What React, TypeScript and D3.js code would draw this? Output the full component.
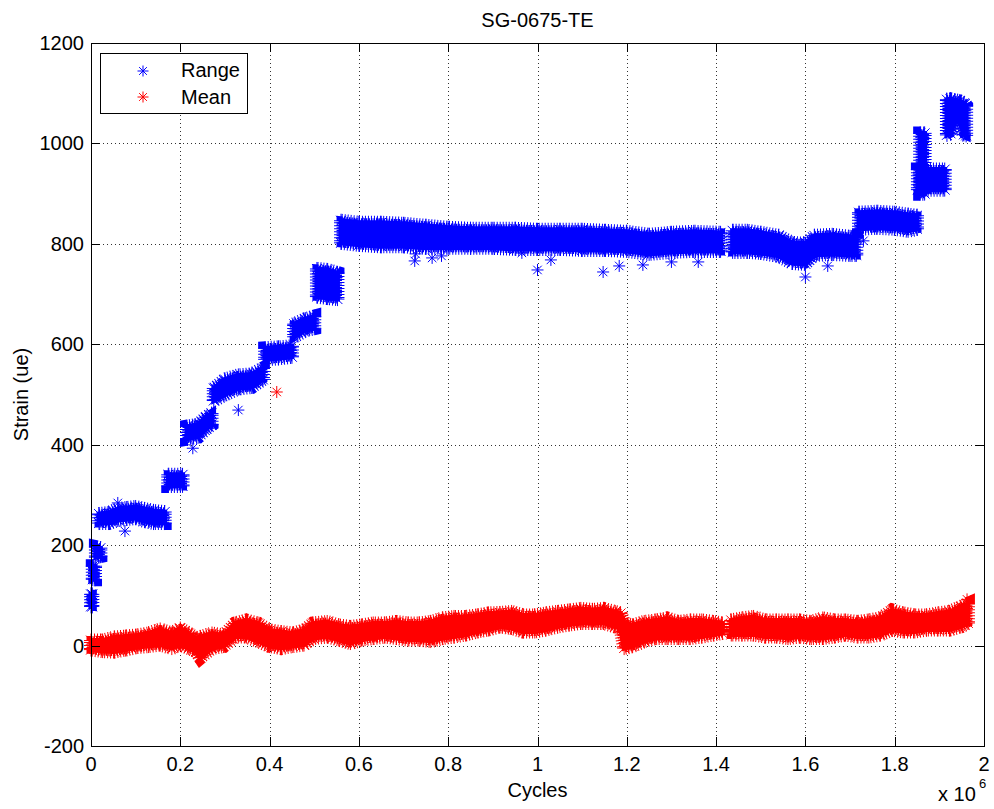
import React from "react";
import * as d3 from "d3";

// SG-0675-TE strain history: Range and Mean vs Cycles (x 10^6)
const W = 994;
const H = 809;
const plot = { left: 91, right: 984, top: 43, bottom: 746 };

const xTicks = [0, 0.2, 0.4, 0.6, 0.8, 1, 1.2, 1.4, 1.6, 1.8, 2];
const yTicks = [-200, 0, 200, 400, 600, 800, 1000, 1200];

// dense point clouds as [cycles (1e6), low, high]; null = gap
type Row = [number, number, number] | null;

const rangeBand: Row[] = [
  [0.0, 78, 102], [0.003, 78, 102], null,
  [0.004, 132, 158], [0.009, 132, 158], null,
  [0.011, 176, 196], [0.021, 178, 194], null,
  [0.018, 244, 262], [0.04, 244, 264], [0.06, 250, 272], [0.08, 252, 274],
  [0.1, 254, 276], [0.12, 248, 272], [0.14, 244, 268], [0.165, 244, 266], null,
  [0.173, 318, 340], [0.205, 318, 340], null,
  [0.215, 412, 436], [0.24, 416, 440], [0.258, 432, 455], [0.27, 440, 462], null,
  [0.275, 488, 512], [0.3, 500, 530], [0.33, 512, 538], [0.36, 515, 540], [0.385, 530, 552], null,
  [0.39, 570, 592], [0.42, 572, 594], [0.45, 575, 596], null,
  [0.455, 615, 640], [0.48, 628, 650], [0.5, 632, 655], null,
  [0.506, 695, 750], [0.53, 692, 748], [0.552, 690, 742], null,
  [0.56, 802, 846], [0.6, 798, 842], [0.65, 795, 842], [0.7, 795, 840], [0.75, 792, 836],
  [0.8, 792, 832], [0.85, 792, 830], [0.9, 792, 830], [0.95, 790, 830], [1.0, 790, 828],
  [1.05, 790, 828], [1.1, 788, 828], [1.15, 788, 826], [1.2, 786, 824], [1.25, 780, 818],
  [1.3, 784, 822], [1.35, 786, 824], [1.41, 786, 822], null,
  [1.437, 784, 826], [1.47, 784, 826], [1.5, 782, 822], [1.54, 776, 816], [1.57, 762, 802],
  [1.6, 760, 800], [1.62, 778, 816], [1.66, 780, 818], [1.7, 778, 814], [1.714, 778, 812], null,
  [1.72, 830, 862], [1.76, 832, 864], [1.8, 830, 862], [1.83, 826, 858], [1.85, 830, 856], null,
  [1.857, 900, 1020], [1.867, 900, 1020], null,
  [1.852, 908, 948], [1.912, 908, 948], null,
  [1.917, 1017, 1087], [1.925, 1020, 1088], [1.935, 1045, 1086], [1.945, 1045, 1084],
  [1.955, 1018, 1080], [1.96, 1016, 1075],
];

const meanBand: Row[] = [
  [0.0, -8, 10], [0.026, -11, 10], [0.052, -12, 16], [0.077, -8, 18], [0.103, -3, 20],
  [0.129, -1, 24], [0.155, 2, 32], [0.181, -5, 24], [0.2, 2, 34], [0.219, -5, 24],
  [0.235, -11, 14], [0.245, -24, 17], [0.271, -5, 24], [0.297, -1, 20], [0.323, 18, 44],
  [0.348, 18, 50], [0.374, 9, 44], [0.4, -1, 30], [0.426, -5, 27], [0.452, -1, 24],
  [0.477, 2, 30], [0.497, 15, 44], [0.529, 18, 47], [0.555, 12, 40], [0.581, 5, 37],
  [0.606, 12, 40], [0.632, 15, 44], [0.658, 18, 44], [0.684, 15, 47], [0.71, 12, 44],
  [0.735, 12, 44], [0.761, 9, 47], [0.787, 15, 54], [0.813, 18, 57], [0.839, 22, 57],
  [0.865, 28, 60], [0.89, 32, 64], [0.916, 38, 65], [0.942, 35, 67], [0.968, 28, 60],
  [0.994, 28, 60], [1.019, 32, 64], [1.045, 38, 67], [1.071, 42, 70], [1.097, 45, 73],
  [1.123, 45, 71], [1.148, 45, 73], [1.174, 38, 67], [1.186, 36, 64],
  [1.194, -5, 44], [1.213, -1, 40], [1.239, 9, 47], [1.265, 15, 50], [1.29, 15, 54],
  [1.316, 15, 47], [1.342, 15, 50], [1.368, 18, 50], [1.394, 22, 47], [1.414, 25, 44], null,
  [1.434, 22, 50], [1.458, 22, 54], [1.484, 22, 57], [1.51, 18, 50], [1.535, 18, 50],
  [1.561, 15, 50], [1.587, 18, 50], [1.613, 15, 47], [1.639, 15, 54], [1.665, 18, 50],
  [1.69, 22, 50], [1.716, 18, 47], [1.742, 18, 50], [1.768, 22, 54], [1.794, 32, 70],
  [1.819, 28, 64], [1.845, 28, 60], [1.871, 32, 60], [1.897, 32, 64], [1.923, 32, 67],
  [1.948, 38, 77], [1.964, 45, 83],
];

// single stray points: [cycles (1e6), value]
const rangeOutliers: [number, number][] = [
  [0.06, 284], [0.076, 228], [0.228, 393], [0.33, 469], [0.725, 766], [0.727, 780],
  [0.764, 772], [0.785, 776], [0.965, 782], [1.0, 748], [1.03, 768], [1.147, 744],
  [1.183, 756], [1.236, 758], [1.3, 764], [1.36, 764], [1.6, 734], [1.65, 756],
  [1.73, 806],
];
const meanOutliers: [number, number][] = [[0.416, 505], [1.962, 92]];

const BLUE = "#0000ff";
const RED = "#ff0000";
const FONT = "'Liberation Sans', Arial, Helvetica, sans-serif";

function star(cx: number, cy: number, r: number) {
  const d = r * 0.707;
  return (
    `M${cx - r},${cy}L${cx + r},${cy}M${cx},${cy - r}L${cx},${cy + r}` +
    `M${cx - d},${cy - d}L${cx + d},${cy + d}M${cx - d},${cy + d}L${cx + d},${cy - d}`
  );
}

function Band({ rows, outliers, color, x, y }: any) {
  const area = d3
    .area<Row>()
    .defined((d) => d !== null)
    .x((d) => x(d![0]))
    .y0((d) => y(d![1]))
    .y1((d) => y(d![2]));
  const path = area(rows) || "";
  const pts = rows.filter((d: Row) => d !== null) as [number, number, number][];
  let stars = "";
  pts.forEach((d) => {
    stars += star(x(d[0]), y(d[1]), 7) + star(x(d[0]), y(d[2]), 7);
  });
  let lone = "";
  outliers.forEach((d: [number, number]) => {
    lone += star(x(d[0]), y(d[1]), 6);
  });
  return (
    <g>
      {/* spiky fringe of the overlapping asterisks */}
      <path d={path} fill={color} stroke={color} strokeWidth={14} strokeDasharray="1 2" />
      <path d={path} fill={color} stroke={color} strokeWidth={9} strokeDasharray="1.5 1" />
      <path d={path} fill={color} stroke={color} strokeWidth={5} />
      <path d={stars} fill="none" stroke={color} strokeWidth={1} />
      <path d={lone} fill="none" stroke={color} strokeWidth={1} />
    </g>
  );
}

export default function App() {
  const x = d3.scaleLinear().domain([0, 2]).range([plot.left, plot.right]);
  const y = d3.scaleLinear().domain([-200, 1200]).range([plot.bottom, plot.top]);
  const fmt = d3.format("~g");
  const tick = 9;

  return (
    <svg
      width={W}
      height={H}
      style={{ position: "absolute", left: 0, top: 0, background: "#fff", fontFamily: FONT }}
    >
      <rect x={0} y={0} width={W} height={H} fill="#fff" />
      <defs>
        <clipPath id="plotclip">
          <rect x={plot.left - 8} y={plot.top} width={plot.right - plot.left + 8} height={plot.bottom - plot.top} />
        </clipPath>
      </defs>

      {/* dotted grid */}
      <g stroke="#333" strokeWidth={1} strokeDasharray="1 3">
        {xTicks.slice(1, -1).map((t) => (
          <line key={"gx" + t} x1={Math.round(x(t)) + 0.5} x2={Math.round(x(t)) + 0.5} y1={plot.top} y2={plot.bottom} />
        ))}
        {yTicks.slice(1, -1).map((t) => (
          <line key={"gy" + t} x1={plot.left} x2={plot.right} y1={Math.round(y(t)) + 0.5} y2={Math.round(y(t)) + 0.5} />
        ))}
      </g>

      <g clipPath="url(#plotclip)">
        <Band rows={rangeBand} outliers={rangeOutliers} color={BLUE} x={x} y={y} />
        <Band rows={meanBand} outliers={meanOutliers} color={RED} x={x} y={y} />
      </g>

      {/* axes box and ticks */}
      <g stroke="#000" strokeWidth={1} fill="none">
        <rect x={plot.left + 0.5} y={plot.top + 0.5} width={plot.right - plot.left} height={plot.bottom - plot.top} />
        {xTicks.map((t) => {
          const px = Math.round(x(t)) + 0.5;
          return (
            <g key={"tx" + t}>
              <line x1={px} x2={px} y1={plot.bottom} y2={plot.bottom - tick} />
              <line x1={px} x2={px} y1={plot.top} y2={plot.top + tick} />
            </g>
          );
        })}
        {yTicks.map((t) => {
          const py = Math.round(y(t)) + 0.5;
          return (
            <g key={"ty" + t}>
              <line x1={plot.left} x2={plot.left + tick} y1={py} y2={py} />
              <line x1={plot.right} x2={plot.right - tick} y1={py} y2={py} />
            </g>
          );
        })}
      </g>

      <g fontSize={20} fill="#000">
        {xTicks.map((t) => (
          <text key={"lx" + t} x={x(t)} y={771} textAnchor="middle">
            {fmt(t)}
          </text>
        ))}
        {yTicks.map((t) => (
          <text key={"ly" + t} x={plot.left - 7} y={y(t)} dy="0.35em" textAnchor="end">
            {t}
          </text>
        ))}
        <text x={(plot.left + plot.right) / 2} y={27} textAnchor="middle">
          SG-0675-TE
        </text>
        <text x={(plot.left + plot.right) / 2} y={797} textAnchor="middle">
          Cycles
        </text>
        <text
          transform={`translate(28,${(plot.top + plot.bottom) / 2}) rotate(-90)`}
          textAnchor="middle"
        >
          Strain (ue)
        </text>
        <text x={938} y={801}>
          x 10
        </text>
        <text x={979} y={788} fontSize={13}>
          6
        </text>
      </g>

      {/* legend */}
      <g>
        <rect x={100.5} y={53.5} width={147} height={60} fill="#fff" stroke="#000" strokeWidth={1} />
        <path d={star(143, 71, 5.5)} stroke={BLUE} strokeWidth={1} fill="none" />
        <path d={star(143, 97, 5.5)} stroke={RED} strokeWidth={1} fill="none" />
        <text x={181} y={77} fontSize={20}>
          Range
        </text>
        <text x={181} y={104} fontSize={20}>
          Mean
        </text>
      </g>
    </svg>
  );
}
